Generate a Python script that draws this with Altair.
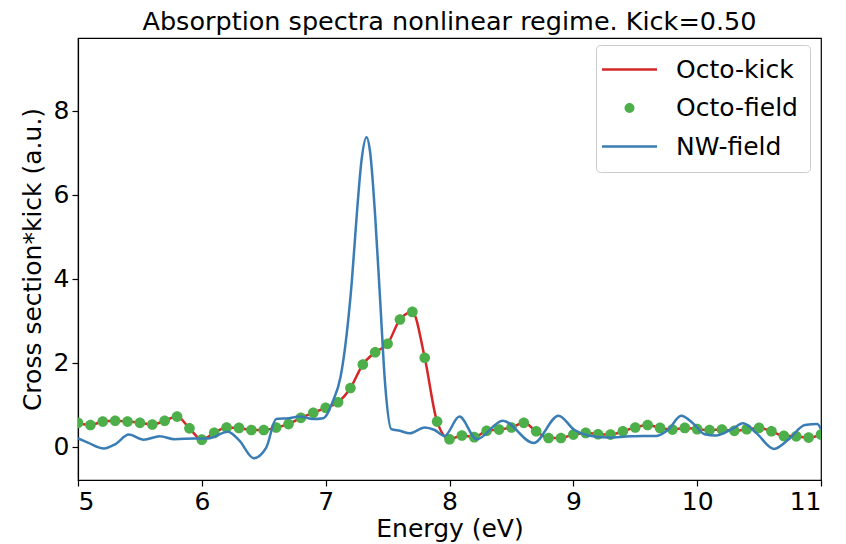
import altair as alt
import pandas as pd

# ---- data ----
field_energy = [5.0, 5.1, 5.2, 5.3, 5.4, 5.5, 5.6, 5.7, 5.8, 5.9,
                6.0, 6.1, 6.2, 6.3, 6.4, 6.5, 6.6, 6.7, 6.8, 6.9,
                7.0, 7.1, 7.2, 7.3, 7.4, 7.5, 7.6, 7.7, 7.8, 7.9,
                8.0, 8.1, 8.2, 8.3, 8.4, 8.5, 8.6, 8.7, 8.8, 8.9,
                9.0, 9.1, 9.2, 9.3, 9.4, 9.5, 9.6, 9.7, 9.8, 9.9,
                10.0, 10.1, 10.2, 10.3, 10.4, 10.5, 10.6, 10.7, 10.8, 10.9,
                11.0]
octo_field = [0.57, 0.52, 0.60, 0.62, 0.60, 0.57, 0.53, 0.62, 0.72, 0.44,
              0.17, 0.33, 0.46, 0.45, 0.40, 0.40, 0.46, 0.54, 0.69, 0.81,
              0.93, 1.06, 1.40, 1.96, 2.25, 2.45, 3.03, 3.21, 2.12, 0.60,
              0.18, 0.27, 0.23, 0.38, 0.41, 0.46, 0.57, 0.37, 0.21, 0.21,
              0.29, 0.33, 0.30, 0.29, 0.37, 0.46, 0.52, 0.45, 0.41, 0.45,
              0.42, 0.40, 0.41, 0.38, 0.42, 0.45, 0.37, 0.26, 0.25, 0.22,
              0.29]
octo_kick = [0.57, 0.52, 0.60, 0.62, 0.60, 0.57, 0.53, 0.62, 0.72, 0.44,
             0.17, 0.33, 0.46, 0.45, 0.40, 0.40, 0.46, 0.54, 0.69, 0.81,
             0.93, 1.06, 1.40, 1.96, 2.25, 2.45, 3.03, 3.21, 2.12, 0.60,
             0.18, 0.27, 0.23, 0.38, 0.41, 0.46, 0.57, 0.37, 0.21, 0.21,
             0.29, 0.33, 0.30, 0.29, 0.37, 0.46, 0.52, 0.45, 0.41, 0.45,
             0.42, 0.40, 0.41, 0.38, 0.42, 0.45, 0.37, 0.26, 0.25, 0.22,
             0.29]

nw_energy = [5.0, 5.08, 5.21, 5.30, 5.41, 5.53, 5.66, 5.78, 5.94, 6.05,
             6.21, 6.30, 6.42, 6.52, 6.60, 6.70, 6.79, 6.90, 6.98, 7.06,
             7.12, 7.17, 7.21, 7.25, 7.29, 7.33, 7.36, 7.40, 7.44, 7.48,
             7.53, 7.60, 7.68, 7.80, 7.88, 7.96, 8.08, 8.22, 8.43, 8.68,
             8.88, 9.01, 9.12, 9.28, 9.46, 9.67, 9.77, 9.87, 9.97, 10.06,
             10.15, 10.29, 10.37, 10.48, 10.62, 10.74, 10.87, 10.97, 11.0]
nw_field = [0.20, 0.10, -0.04, 0.06, 0.29, 0.17, 0.25, 0.18, 0.20, 0.20,
            0.36, 0.16, -0.27, -0.02, 0.66, 0.68, 0.72, 0.66, 0.68, 1.10,
            1.66, 2.69, 3.89, 5.48, 6.83, 7.37, 6.99, 5.48, 3.49, 1.50,
            0.42, 0.38, 0.32, 0.46, 0.40, 0.26, 0.72, 0.18, 0.62, 0.09,
            0.74, 0.40, 0.27, 0.22, 0.25, 0.26, 0.42, 0.74, 0.55, 0.30,
            0.27, 0.44, 0.56, 0.32, -0.05, 0.18, 0.52, 0.54, 0.42]

series_names = ["Octo-kick", "Octo-field", "NW-field"]
series_colors = ["#d62728", "#4daf4a", "#3a7db5"]
x_ticks = [5, 6, 7, 8, 9, 10, 11]
y_ticks = [0, 2, 4, 6, 8]

kick_df = pd.DataFrame({"energy": field_energy, "value": octo_kick, "series": "Octo-kick"})
field_df = pd.DataFrame({"energy": field_energy, "value": octo_field, "series": "Octo-field"})
nw_df = pd.DataFrame({"energy": nw_energy, "value": nw_field, "series": "NW-field"})

FONT = "DejaVu Sans"

x_enc = alt.X("energy:Q",
              scale=alt.Scale(domain=[5, 11], nice=False, zero=False),
              axis=alt.Axis(values=x_ticks, format="d", title="Energy (eV)"))
y_enc = alt.Y("value:Q",
              scale=alt.Scale(domain=[-0.79, 9.73], nice=False, zero=False),
              axis=alt.Axis(values=y_ticks, format="d", title="Cross section*kick (a.u.)"))

color_scale = alt.Scale(domain=series_names, range=series_colors)
# legend glyphs: a thin filled bar for lines, a small disc for the dots
line_path = "M-2.5,-0.11H2.5V0.11H-2.5Z"
dot_path = "M0,-0.45A0.45,0.45,0,1,1,0,0.45A0.45,0.45,0,1,1,0,-0.45Z"
shape_scale = alt.Scale(domain=series_names, range=[line_path, dot_path, line_path])

legend = alt.Legend(
    title=None, orient="none", legendX=518, legendY=7,
    labelFontSize=25, labelFont=FONT, labelColor="black", labelLimit=0,
    symbolSize=484, symbolOffset=9, labelOffset=34,
    padding=12, rowPadding=12.5,
    fillColor="white", strokeColor="#cccccc", cornerRadius=4,
    symbolStrokeWidth=0, symbolOpacity=1,
)

red = alt.Chart(kick_df).mark_line(strokeWidth=2.5, interpolate="monotone", clip=True,
                                   color=series_colors[0]).encode(x=x_enc, y=y_enc)
dots = alt.Chart(field_df).mark_point(filled=True, size=560, opacity=1, strokeWidth=0, clip=True).encode(
    x=x_enc, y=y_enc,
    color=alt.Color("series:N", scale=color_scale, legend=legend),
    shape=alt.Shape("series:N", scale=shape_scale, legend=legend),
)
blue = alt.Chart(nw_df).mark_line(strokeWidth=2.5, interpolate="monotone", clip=True,
                                  color=series_colors[2]).encode(x=x_enc, y=y_enc)

chart = alt.layer(red, dots, blue).properties(
    width=743, height=442,
    autosize=alt.AutoSizeParams(type="none"),
    padding={"left": 70, "top": 30, "right": 17, "bottom": 62},
    title=alt.TitleParams("Absorption spectra nonlinear regime. Kick=0.50",
                          fontSize=25.5, font=FONT, fontWeight="normal", color="black",
                          anchor="middle", offset=3),
).configure_view(stroke="black", strokeWidth=1.2).configure_axis(
    labelFont=FONT, titleFont=FONT, labelFontSize=25, titleFontSize=25,
    labelColor="black", titleColor="black", titleFontWeight="normal",
    domainColor="black", tickColor="black", tickSize=6, tickWidth=1.2, domainWidth=1.2,
    grid=False, labelPadding=3,
).configure_axisY(titlePadding=8).configure_axisX(titlePadding=2)

chart.save("out.html", embed_options={"renderer": "svg", "actions": False})
